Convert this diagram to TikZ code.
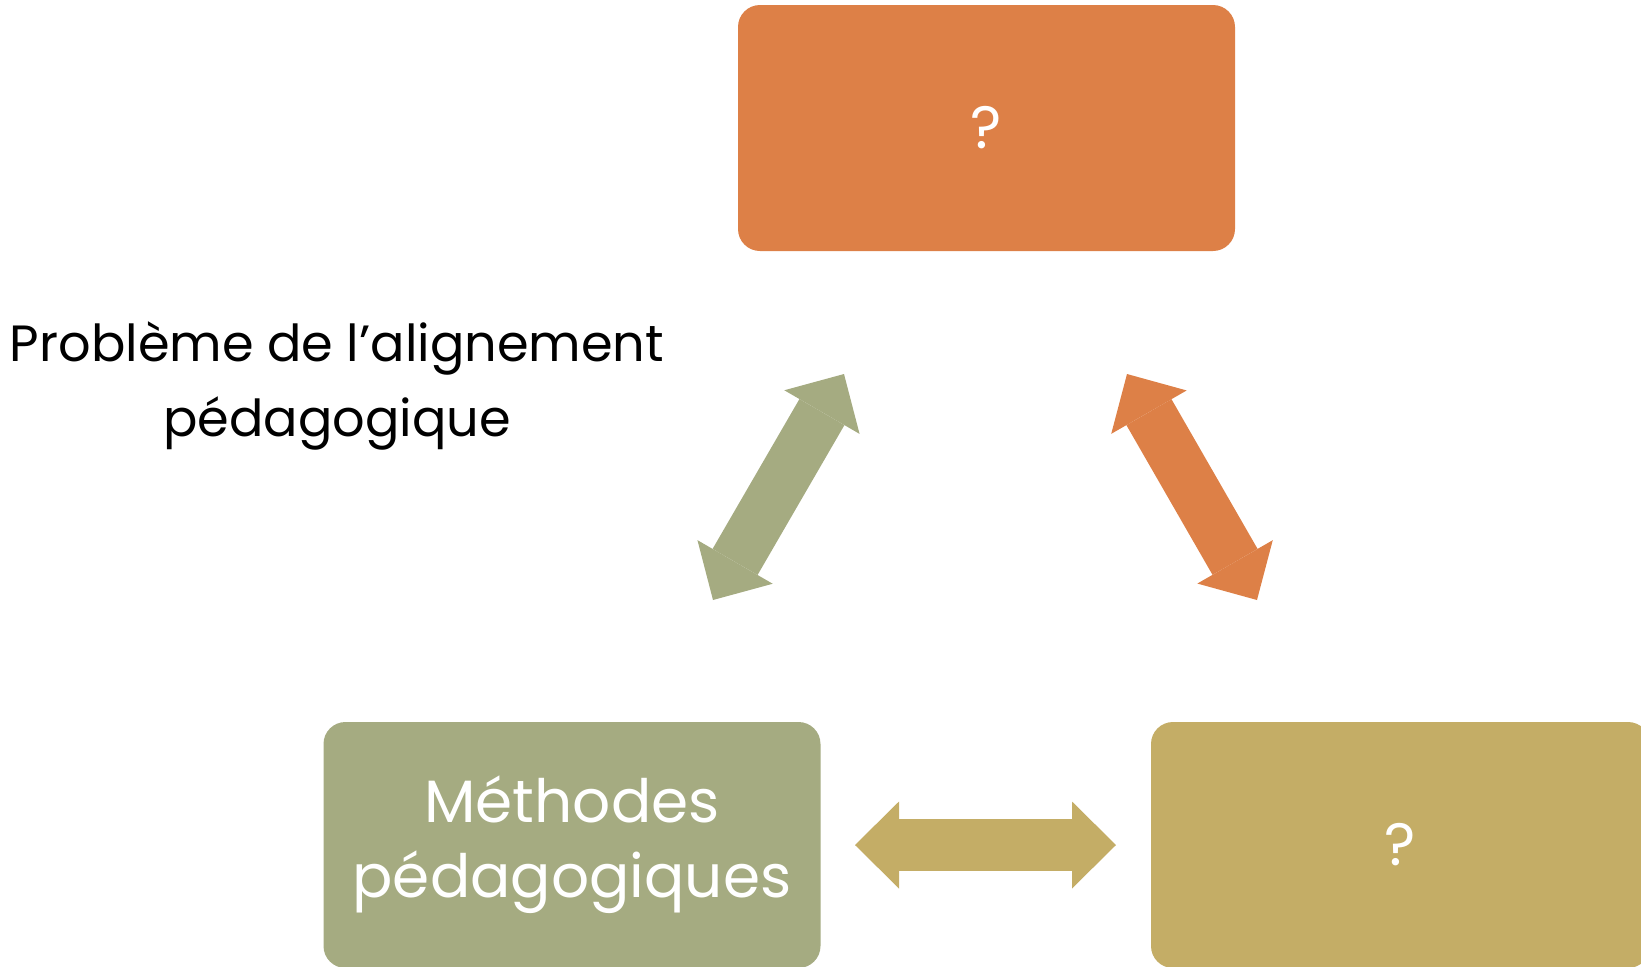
\documentclass[tikz,border=0pt]{standalone}
\usepackage{fontspec}
\setmainfont{Poppins}
\usetikzlibrary{arrows.meta}
\definecolor{boxorange}{HTML}{DD8047}
\definecolor{boxgreen}{HTML}{A5AB81}
\definecolor{boxgold}{HTML}{C4AD66}
\tikzset{
	block/.style={rounded corners=0.22cm, minimum width=4.97cm, minimum height=2.46cm, inner sep=0pt, text=white, align=center, font=\fontsize{17}{21.3}\selectfont},
	twoway/.style={line width=0.52cm, {Triangle[length=0.44cm,width=0.87cm,line width=0pt]}-{Triangle[length=0.44cm,width=0.87cm,line width=0pt]}}
}

\begin{document}
\begin{tikzpicture}
			%%%%% START %%%%%
			\useasboundingbox (0, 0) rectangle (16.41, -9.66);
			
			\node[block, fill=boxorange] (goals) at (9.865, -1.28) {?};
			\node[block, fill=boxgreen] (methods) at (5.72, -8.45) {Méthodes\\pédagogiques};
			\node[block, fill=boxgold, minimum width=4.99cm] (assess) at (14.005, -8.45) {?};
			
			\node[align=center, inner sep=0pt, font=\fontsize{14.5}{21.3}\selectfont] (title) at (3.37, -3.86) {Problème de l’alignement\\pédagogique};
			
			\coordinate (greenlow) at (7.13, -6.00);
			\coordinate (greenhigh) at (8.44, -3.74);
			\coordinate (orangehigh) at (11.27, -3.74);
			\coordinate (orangelow) at (12.57, -6.00);
			\coordinate (goldleft) at (8.55, -8.45);
			\coordinate (goldright) at (11.16, -8.45);
			
			\draw[twoway, boxgreen] (greenlow) -- (greenhigh);
			\draw[twoway, boxorange] (orangehigh) -- (orangelow);
			\draw[twoway, boxgold] (goldleft) -- (goldright);
			%%%%% END %%%%%
\end{tikzpicture}
\end{document}
